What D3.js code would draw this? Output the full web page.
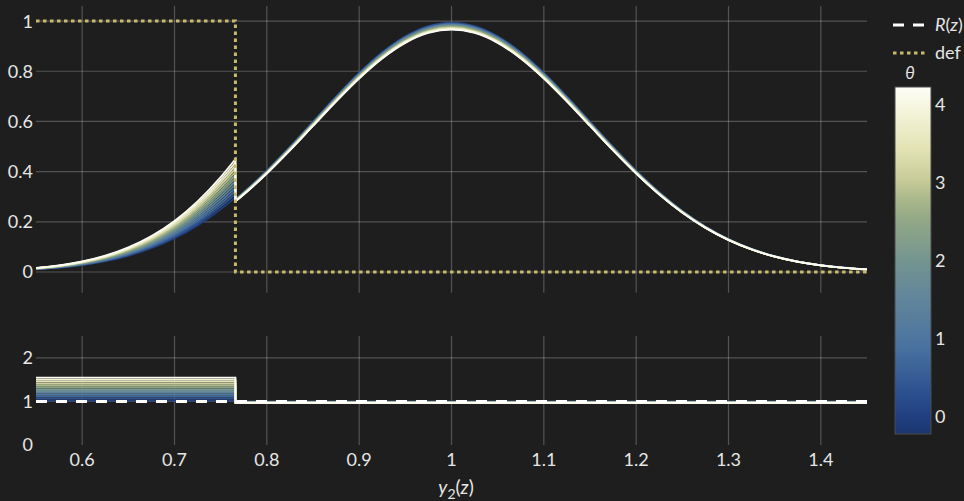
<!DOCTYPE html>
<html>
<head>
<meta charset="utf-8">
<script src="https://cdn.jsdelivr.net/npm/d3@7"></script>
<style>
  body { margin: 0; background: #1e1e1e; }
  svg { display: block; font-family: Lato, "Open Sans", sans-serif; }
</style>
</head>
<body>
<svg width="964" height="501"></svg>
<script>
// z grid and base density (peak normalised to 1)
const zGrid = [0.55, 0.575, 0.6, 0.625, 0.65, 0.675, 0.7, 0.725, 0.75, 0.766,
  0.775, 0.8, 0.825, 0.85, 0.875, 0.9, 0.925, 0.95, 0.975, 1.0,
  1.025, 1.05, 1.075, 1.1, 1.125, 1.15, 1.175, 1.2, 1.225, 1.25,
  1.275, 1.3, 1.325, 1.35, 1.375, 1.4, 1.425, 1.45];
const baseDensity = [0.0105, 0.0171, 0.0272, 0.0421, 0.0634, 0.0927, 0.1317, 0.1821, 0.2447, 0.2914,
  0.3198, 0.4062, 0.5017, 0.6024, 0.7033, 0.7983, 0.8810, 0.9453, 0.9860, 1.0,
  0.9860, 0.9453, 0.8810, 0.7983, 0.7033, 0.6024, 0.5017, 0.4062, 0.3198, 0.2447,
  0.1821, 0.1317, 0.0927, 0.0634, 0.0421, 0.0272, 0.0171, 0.0105];
const zCut = 0.766;

// one curve per theta
const thetas = [0, 0.35, 0.7, 1.05, 1.4, 1.75, 2.1, 2.45, 2.8, 3.15, 3.5, 3.85, 4.2];
const ratioLeft = [1.02, 1.064, 1.108, 1.151, 1.195, 1.239, 1.283, 1.326, 1.37, 1.414, 1.458, 1.501, 1.545];
const ratioRight = [0.994, 0.992, 0.989, 0.987, 0.985, 0.982, 0.980, 0.978, 0.975, 0.973, 0.971, 0.968, 0.966];

// colour bar
const cbarStops = [-0.22, 0, 0.26, 0.9, 1.54, 1.99, 2.53, 2.82, 3.04, 3.47, 3.89, 4.23];
const cbarColors = ['#1b3570', '#203f80', '#2a4d8e', '#4a72a0', '#62869a', '#739490',
  '#93a886', '#adba8c', '#c8cc98', '#e4e4b8', '#f3f3d8', '#fefef8'];

const xTicks = [0.6, 0.7, 0.8, 0.9, 1, 1.1, 1.2, 1.3, 1.4];
const yTopTicks = [0, 0.2, 0.4, 0.6, 0.8, 1];
const yBotTicks = [0, 1, 2];
const cbarTicks = [0, 1, 2, 3, 4];

const svg = d3.select('svg');
const width = +svg.attr('width');
const height = +svg.attr('height');

const textColor = '#e6e6e6';
const gridColor = 'rgba(255,255,255,0.24)';
const defColor = '#c8b96e';

const xScale = d3.scaleLinear().domain([0.55, 1.45]).range([36, 867]);
const yTop = d3.scaleLinear().domain([-0.0825, 1.06]).range([292.7, 6]);
const yBot = d3.scaleLinear().domain([0, 2.5]).range([445, 336]);
const color = d3.scaleLinear().domain(cbarStops).range(cbarColors).interpolate(d3.interpolateRgb);

svg.append('rect').attr('width', width).attr('height', height).attr('fill', '#1e1e1e');

const defs = svg.append('defs');
defs.append('clipPath').attr('id', 'clipTop').append('rect')
  .attr('x', 36).attr('y', 6).attr('width', 831).attr('height', 286.7);
defs.append('clipPath').attr('id', 'clipBot').append('rect')
  .attr('x', 36).attr('y', 336).attr('width', 831).attr('height', 109);

// grids
const grid = svg.append('g').attr('stroke', gridColor).attr('stroke-width', 1.2);
xTicks.forEach(t => {
  grid.append('line').attr('x1', xScale(t)).attr('x2', xScale(t)).attr('y1', 6).attr('y2', 292.7);
  grid.append('line').attr('x1', xScale(t)).attr('x2', xScale(t)).attr('y1', 336).attr('y2', 445);
});
yTopTicks.forEach(t => {
  grid.append('line').attr('x1', 36).attr('x2', 867).attr('y1', yTop(t)).attr('y2', yTop(t));
});
yBotTicks.filter(t => t > 0).forEach(t => {
  grid.append('line').attr('x1', 36).attr('x2', 867).attr('y1', yBot(t)).attr('y2', yBot(t));
});

// tick labels
const labels = svg.append('g').attr('fill', textColor).attr('font-size', 18);
xTicks.forEach(t => {
  labels.append('text').attr('x', xScale(t)).attr('y', 466).attr('text-anchor', 'middle').text(d3.format('~g')(t));
});
yTopTicks.forEach(t => {
  labels.append('text').attr('x', 33).attr('y', yTop(t)).attr('dy', '0.36em').attr('text-anchor', 'end').text(d3.format('~g')(t));
});
yBotTicks.forEach(t => {
  labels.append('text').attr('x', 33).attr('y', yBot(t)).attr('dy', '0.36em').attr('text-anchor', 'end').text(t);
});

// x label y2(z)
const xl = svg.append('text').attr('x', 456).attr('y', 494).attr('text-anchor', 'middle')
  .attr('fill', textColor).attr('font-size', 19);
xl.append('tspan').attr('font-style', 'italic').text('y');
xl.append('tspan').attr('dy', 5).attr('font-size', 14).text('2');
xl.append('tspan').attr('dy', -5).text('(');
xl.append('tspan').attr('font-style', 'italic').text('z');
xl.append('tspan').text(')');

// top panel curves
const line = d3.line().x(d => xScale(d[0])).y(d => yTop(d[1])).curve(d3.curveMonotoneX);
const topG = svg.append('g').attr('clip-path', 'url(#clipTop)');
thetas.forEach((th, i) => {
  const left = [], right = [];
  zGrid.forEach((z, j) => {
    if (z <= zCut) left.push([z, baseDensity[j] * ratioLeft[i]]);
    if (z >= zCut) right.push([z, baseDensity[j] * ratioRight[i]]);
  });
  topG.append('path')
    .attr('d', line(left) + line(right).replace(/^M/, 'L'))
    .attr('fill', 'none').attr('stroke', color(th)).attr('stroke-width', 1.8);
});

// def step
const defLine = d3.line().x(d => xScale(d[0])).y(d => yTop(d[1]));
topG.append('path')
  .attr('d', defLine([[0.55, 1], [zCut, 1], [zCut, 0], [1.45, 0]]))
  .attr('fill', 'none').attr('stroke', defColor).attr('stroke-width', 3)
  .attr('stroke-dasharray', '3.5,3.5');

// bottom panel ratios
const botLine = d3.line().x(d => xScale(d[0])).y(d => yBot(d[1]));
const botG = svg.append('g').attr('clip-path', 'url(#clipBot)');
thetas.forEach((th, i) => {
  botG.append('path')
    .attr('d', botLine([[0.55, ratioLeft[i]], [zCut, ratioLeft[i]], [zCut, ratioRight[i]], [1.45, ratioRight[i]]]))
    .attr('fill', 'none').attr('stroke', color(th)).attr('stroke-width', 1.8);
});
botG.append('path')
  .attr('d', botLine([[0.55, 1], [1.45, 1]]))
  .attr('fill', 'none').attr('stroke', '#ffffff').attr('stroke-width', 3)
  .attr('stroke-dasharray', '11,9');

// legend
const leg = svg.append('g');
leg.append('line').attr('x1', 893).attr('x2', 926).attr('y1', 25).attr('y2', 25)
  .attr('stroke', '#ffffff').attr('stroke-width', 3).attr('stroke-dasharray', '11,9');
const rt = leg.append('text').attr('x', 935).attr('y', 31).attr('fill', textColor).attr('font-size', 18);
rt.append('tspan').attr('font-style', 'italic').text('R');
rt.append('tspan').text('(');
rt.append('tspan').attr('font-style', 'italic').text('z');
rt.append('tspan').text(')');
leg.append('line').attr('x1', 893).attr('x2', 926).attr('y1', 53).attr('y2', 53)
  .attr('stroke', defColor).attr('stroke-width', 3).attr('stroke-dasharray', '3.5,3.5');
leg.append('text').attr('x', 935).attr('y', 59).attr('fill', textColor).attr('font-size', 18).text('def');

// colour bar
const cbX = 895, cbW = 36;
const cbScale = d3.scaleLinear().domain([-0.22, 4.23]).range([434, 87]);
const grad = defs.append('linearGradient').attr('id', 'cbar')
  .attr('x1', 0).attr('x2', 0).attr('y1', 1).attr('y2', 0);
cbarStops.forEach((s, i) => {
  grad.append('stop').attr('offset', (s - (-0.22)) / (4.23 + 0.22)).attr('stop-color', cbarColors[i]);
});
svg.append('rect').attr('x', cbX).attr('y', 87).attr('width', cbW).attr('height', 347)
  .attr('fill', 'url(#cbar)').attr('stroke', '#4a4a4a').attr('stroke-width', 1);
cbarTicks.forEach(t => {
  svg.append('text').attr('x', 935).attr('y', cbScale(t)).attr('dy', '0.36em')
    .attr('fill', textColor).attr('font-size', 18).text(t);
});
svg.append('text').attr('x', 910).attr('y', 79).attr('text-anchor', 'middle')
  .attr('fill', textColor).attr('font-size', 17).attr('font-style', 'italic').text('θ');
</script>
</body>
</html>
